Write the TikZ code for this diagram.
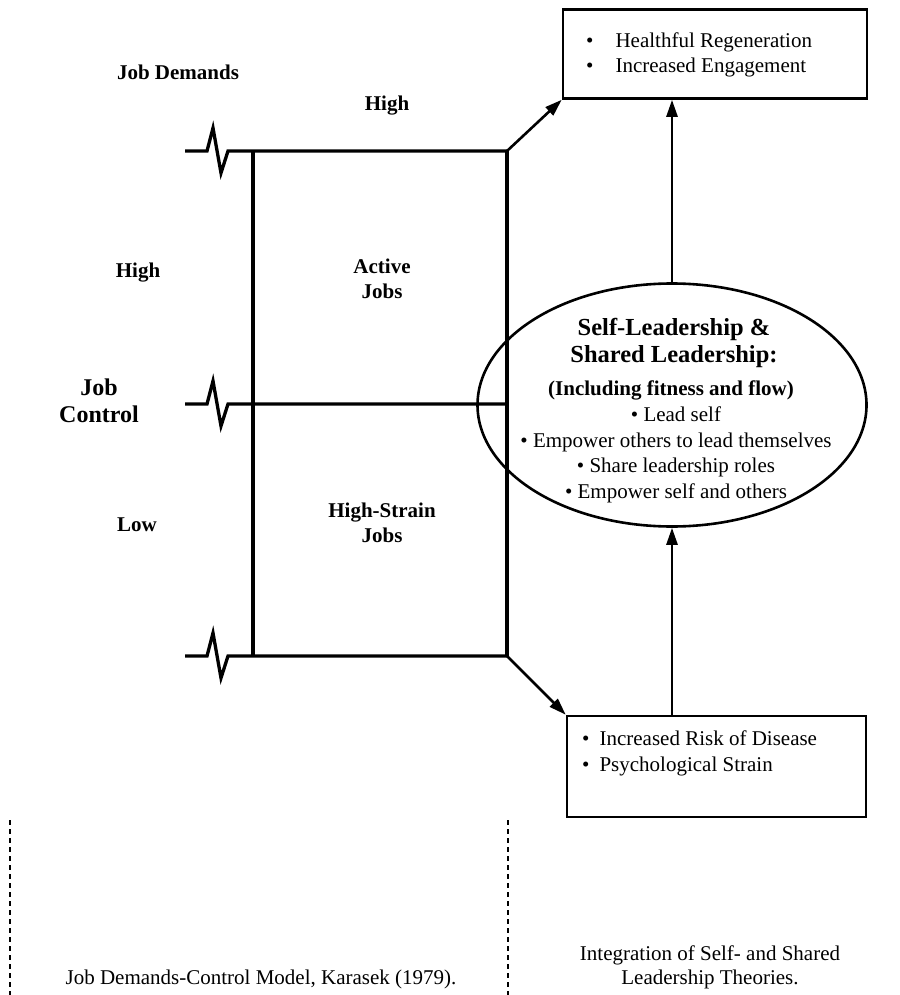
\documentclass[tikz,border=0pt]{standalone}
\usepackage{fontspec}
\setmainfont{Liberation Serif}
\usetikzlibrary{arrows.meta}
\usetikzlibrary{positioning}
\usetikzlibrary{shapes.geometric}

\tikzset{
  gridline/.style={line width=3.3pt, line join=miter},
  arrowline/.style={line width=2.6pt, -{Triangle[length=17pt,width=11pt]}},
  outbox/.style={draw, line width=2.6pt, inner sep=0pt},
  lbl/.style={font=\fontsize{21}{25}\selectfont\bfseries, align=center, inner sep=0pt},
  txt/.style={font=\fontsize{21}{25.5}\selectfont, align=left, inner sep=0pt},
  caption/.style={font=\fontsize{21}{24}\selectfont, align=center, inner sep=0pt},
}

\begin{document}
\begin{tikzpicture}[x=1pt, y=-1pt]
\useasboundingbox (0,0) rectangle (899,995);

% job demands-control grid
\foreach \y in {151,404,656}
  \draw[gridline] (185,\y) -- (207,\y) -- (213,\y-23) -- (221,\y+22) -- (228,\y) -- (507,\y);
\draw[gridline] (253,151) -- (253,656);
\draw[gridline] (507,151) coordinate (gridtop) -- (507,656) coordinate (gridbot);

\node[lbl] (demands) at (178,72) {Job Demands};
\node[lbl] (demhigh) at (387,106) {High};
\node[lbl] (ctrlhigh) at (138,273) {High};
\node[lbl, font=\fontsize{24}{27}\selectfont\bfseries] (control) at (99,401) {Job\\Control};
\node[lbl] (ctrllow) at (137,525) {Low};
\node[lbl] (active) at (382,279) {Active\\Jobs};
\node[lbl] (strain) at (382,523) {High-Strain\\Jobs};

% outcome boxes
\node[outbox, minimum width=304pt, minimum height=89pt] (regen) at (715,54) {};
\node[txt, anchor=west] (regenlist) at (586,55)
  {\textbullet\hspace{22pt}Healthful Regeneration\\\textbullet\hspace{22pt}Increased Engagement};

\node[outbox, minimum width=299pt, minimum height=101pt] (disease) at (716.5,766.5) {};
\node[txt, anchor=west, font=\fontsize{21}{26}\selectfont] (diseaselist) at (582,753)
  {\textbullet\hspace{10pt}Increased Risk of Disease\\\textbullet\hspace{10pt}Psychological Strain};

% self- and shared leadership
\node[ellipse, draw, line width=2.6pt, minimum width=389pt, minimum height=243pt] (selfshared) at (672,405) {};
\node[lbl, font=\fontsize{24.5}{27}\selectfont\bfseries] (sstitle) at (674,343) {Self-Leadership \&\\Shared Leadership:};
\node[lbl] (ssfit) at (671,390) {(Including fitness and flow)};
\node[txt, align=center] (sslist) at (676,455)
  {\textbullet\ Lead self\\\textbullet\ Empower others to lead themselves\\
   \textbullet\ Share leadership roles\\\textbullet\ Empower self and others};

% arrows
\draw[arrowline] (gridtop) -- (regen.south west);
\draw[arrowline] (gridbot) -- (disease.north west);
\draw[arrowline] (selfshared.north) -- (selfshared.north |- regen.south);
\draw[arrowline] (disease.north -| selfshared.south) -- (selfshared.south);

% separators and captions
\draw[line width=1.4pt, dash pattern=on 5pt off 4pt] (10,820) coordinate (sepl) -- (10,995);
\draw[line width=1.4pt, dash pattern=on 5pt off 4pt] (508,820) coordinate (sepr) -- (508,995);
\node[caption] (jdcm) at (261,979) {Job Demands-Control Model, Karasek (1979).};
\node[caption] (integ) at (710,967) {Integration of Self- and Shared\\Leadership Theories.};

\end{tikzpicture}
\end{document}
